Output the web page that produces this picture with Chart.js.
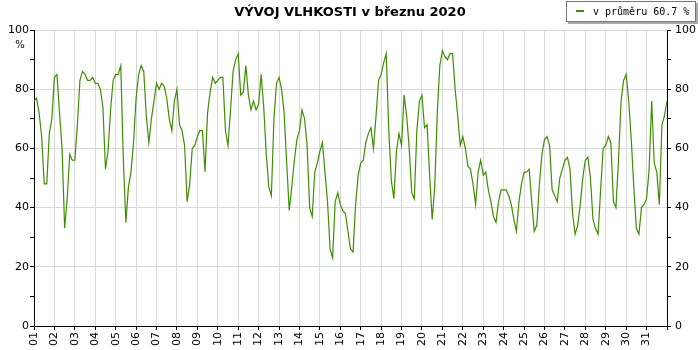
<!DOCTYPE html>
<html>
<head>
<meta charset="utf-8">
<script src="https://cdn.jsdelivr.net/npm/chart.js@4.4.1/dist/chart.umd.min.js"></script>
<style>
  html, body { margin: 0; padding: 0; background: #fff; }
  #wrap { position: relative; width: 700px; height: 350px; }
  #legend {
    position: absolute; left: 566px; top: 1px; width: 128px; height: 19px;
    border: 1px solid #777; background: #fff; box-shadow: 2px 2px 0 #aaa;
    font: 10px 'DejaVu Sans Mono', monospace; color: #000;
    line-height: 19px; white-space: nowrap; box-sizing: content-box;
  }
  #legend span.dash {
    display: inline-block; width: 8px; height: 2px; background: #3d8f00;
    vertical-align: middle; margin: 0 9px 2px 9px;
  }
</style>
</head>
<body>
<div id="wrap">
  <canvas id="chart" width="700" height="350"></canvas>
  <div id="legend"><span class="dash"></span>v průměru 60.7 %</div>
</div>
<script>
// humidity, 8 readings per day (every 3 h), 1.-31. March + closing point
const humidity = [
  76, 77, 72, 64, 48, 48, 65, 70,   // 01
  84, 85, 72, 60, 33, 43, 58, 56,   // 02
  56, 68, 83, 86, 85, 83, 83, 84,   // 03
  82, 82, 80, 74, 53, 59, 73, 83,   // 04
  85, 85, 88, 56, 35, 47, 52, 62,   // 05
  77, 85, 88, 86, 71, 62, 70, 76,   // 06
  82, 80, 82, 81, 77, 70, 66, 76,   // 07
  80, 68, 66, 61, 42, 48, 60, 61,   // 08
  64, 66, 66, 52, 72, 79, 84, 82,   // 09
  83, 84, 84, 66, 61, 73, 86, 90,   // 10
  92, 78, 79, 88, 78, 73, 76, 73,   // 11
  75, 85, 74, 58, 47, 44, 70, 82,   // 12
  84, 80, 72, 55, 39, 47, 56, 63,   // 13
  66, 73, 70, 61, 40, 37, 52, 55,   // 14
  59, 62, 52, 42, 26, 23, 42, 45,   // 15
  41, 39, 38, 32, 26, 25, 41, 51,   // 16
  55, 56, 62, 65, 67, 60, 71, 83,   // 17
  85, 89, 92, 66, 49, 43, 59, 65,   // 18
  61, 78, 71, 60, 45, 43, 66, 76,   // 19
  78, 67, 68, 51, 36, 47, 72, 88,   // 20
  93, 91, 90, 92, 92, 80, 71, 61,   // 21
  64, 60, 54, 53, 48, 41, 52, 56,   // 22
  51, 52, 46, 42, 37, 35, 42, 46,   // 23
  46, 46, 44, 41, 36, 32, 42, 48,   // 24
  52, 52, 53, 42, 32, 34, 48, 58,   // 25
  63, 64, 61, 46, 44, 42, 50, 53,   // 26
  56, 57, 53, 38, 31, 34, 41, 50,   // 27
  56, 57, 50, 36, 33, 31, 46, 60,   // 28
  61, 64, 62, 42, 40, 56, 76, 83,   // 29
  85, 76, 63, 47, 33, 31, 40, 41,   // 30
  43, 53, 76, 55, 52, 41, 68, 71,   // 31
  76
];
const readingsPerDay = 8;
const dayLabels = ['01','02','03','04','05','06','07','08','09','10','11','12','13','14','15','16',
  '17','18','19','20','21','22','23','24','25','26','27','28','29','30','31'];
const yTicks = [0, 20, 40, 60, 80, 100];

const GREEN = '#3d8f00';
const GRID = '#d9d9d9';
const tickFont = { family: "'DejaVu Sans', Verdana, sans-serif", size: 11 };

const points = humidity.map((v, i) => ({ x: i / readingsPerDay, y: v }));

// title and "%" unit drawn on the canvas
const extras = {
  id: 'extras',
  afterDraw(chart) {
    const ctx = chart.ctx;
    ctx.save();
    ctx.fillStyle = '#000';
    ctx.textAlign = 'center';
    ctx.textBaseline = 'middle';
    ctx.font = "bold 13px 'DejaVu Sans', Verdana, sans-serif";
    ctx.fillText('VÝVOJ VLHKOSTI v březnu 2020', 350, 13);
    ctx.font = "10px 'DejaVu Sans', Verdana, sans-serif";
    ctx.fillText('%', 20, 45);
    ctx.restore();
  }
};

const yCommon = {
  min: 0, max: 100,
  ticks: {
    stepSize: 10, color: '#000', font: tickFont, padding: 1,
    callback: v => yTicks.includes(v) ? String(v) : ''
  },
  border: { color: '#000', width: 1 }
};

new Chart(document.getElementById('chart'), {
  type: 'line',
  data: {
    datasets: [{
      data: points,
      borderColor: GREEN,
      borderWidth: 1.2,
      pointRadius: 0,
      tension: 0,
      fill: false
    }]
  },
  options: {
    responsive: false,
    animation: false,
    layout: { padding: { top: 30, left: 0, right: 0, bottom: 0 } },
    plugins: { legend: { display: false }, title: { display: false }, tooltip: { enabled: false } },
    scales: {
      x: {
        type: 'linear', min: 0, max: 31,
        afterFit: s => { s.height = 24; },
        ticks: {
          stepSize: 1, autoSkip: false, maxRotation: 90, minRotation: 90,
          color: '#000', font: tickFont, padding: 2,
          callback: v => dayLabels[v] || ''
        },
        grid: { color: GRID, tickColor: '#000', tickLength: 4, lineWidth: 1 },
        border: { color: '#000', width: 1 }
      },
      y: {
        ...yCommon,
        position: 'left',
        afterFit: s => { s.width = 34; },
        grid: {
          color: c => (c.tick && c.tick.value % 20 === 0) ? GRID : 'rgba(0,0,0,0)',
          tickColor: '#000', tickLength: 4
        }
      },
      y2: {
        ...yCommon,
        position: 'right',
        ticks: { ...yCommon.ticks, padding: 4 },
        afterFit: s => { s.width = 33; },
        grid: { drawOnChartArea: false, tickColor: '#000', tickLength: 4 }
      }
    }
  },
  plugins: [extras]
});
</script>
</body>
</html>
